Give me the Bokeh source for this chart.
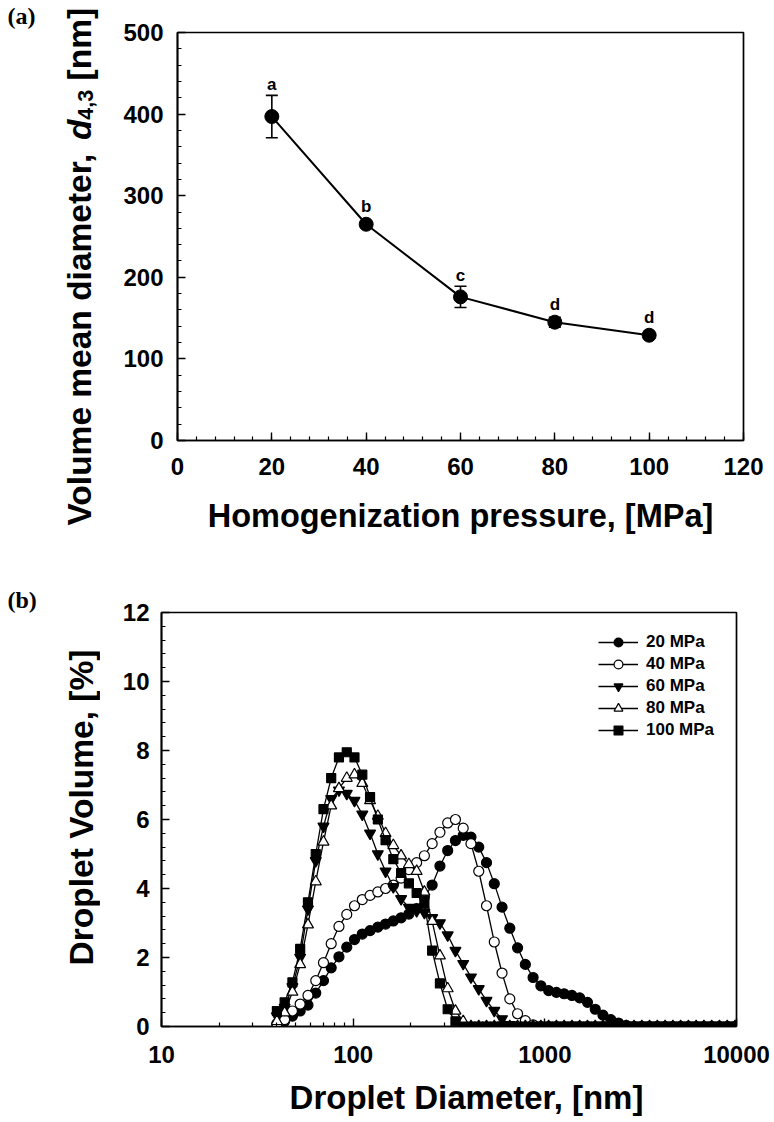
import math
from bokeh.plotting import figure
from bokeh.models import (Range1d, FixedTicker, Whisker, TeeHead, ColumnDataSource,
                          Legend, LegendItem, PrintfTickFormatter)
from bokeh.layouts import column, row
from bokeh.embed import file_html
from bokeh.resources import INLINE
from bokeh.core.properties import value

# ---------------- data: panel (a) ----------------
pressure_mpa = [20, 40, 60, 80, 100]
d43_mean_nm = [397, 265, 176, 145, 129]
d43_err_nm = [26, 3, 13, 6, 3]
group_letters = ["a", "b", "c", "d", "d"]
a_xticks = [0, 20, 40, 60, 80, 100, 120]
a_yticks = [0, 100, 200, 300, 400, 500]

# ---------------- data: panel (b) ----------------
diameter_nm = [40.0, 43.9, 48.2, 52.9, 58.1, 63.8, 70.0, 76.8, 84.3, 92.6,
               101.6, 111.6, 122.5, 134.5, 147.6, 162.0, 177.9, 195.3, 214.4, 235.3,
               258.3, 283.6, 311.3, 341.7, 375.1, 411.8, 452.1, 496.2, 544.8, 598.0,
               656.5, 720.7, 791.1, 868.5, 953.3, 1047, 1149, 1261, 1385, 1520,
               1669, 1832, 2011, 2208, 2423, 2660, 2920, 3206, 3519, 3863,
               4241, 4656, 5111, 5611, 6159, 6761, 7422, 8148, 8944, 9819]
vol_20 = [0.07, 0.15, 0.3, 0.45, 0.62, 0.97, 1.33, 1.7, 2.02, 2.3,
          2.52, 2.68, 2.78, 2.88, 2.97, 3.06, 3.15, 3.26, 3.42, 3.75,
          4.1, 4.65, 5.1, 5.39, 5.54, 5.49, 5.2, 4.75, 4.14, 3.46,
          2.85, 2.28, 1.8, 1.42, 1.18, 1.04, 0.99, 0.95, 0.9, 0.83,
          0.7, 0.5, 0.33, 0.2, 0.1, 0.03, 0, 0, 0, 0,
          0, 0, 0, 0, 0, 0, 0, 0, 0, 0]
vol_40 = [0.08, 0.2, 0.45, 0.65, 0.9, 1.33, 1.85, 2.4, 2.9, 3.25,
          3.5, 3.68, 3.8, 3.9, 4.0, 4.1, 4.3, 4.55, 4.75, 4.95,
          5.3, 5.63, 5.9, 6.0, 5.75, 5.3, 4.5, 3.5, 2.45, 1.55,
          0.8, 0.37, 0.17, 0.05, 0, 0, 0, 0, 0, 0,
          0, 0, 0, 0, 0, 0, 0, 0, 0, 0,
          0, 0, 0, 0, 0, 0, 0, 0, 0, 0]
vol_60 = [0.3, 0.55, 1.15, 2.0, 3.4, 4.8, 5.8, 6.6, 6.85, 6.75,
          6.55, 6.15, 5.6, 5.0, 4.5, 4.05, 3.7, 3.45, 3.35, 3.3,
          3.15, 3.0, 2.65, 2.2, 1.82, 1.43, 1.09, 0.75, 0.46, 0.22,
          0.05, 0, 0, 0, 0, 0, 0, 0, 0, 0,
          0, 0, 0, 0, 0, 0, 0, 0, 0, 0,
          0, 0, 0, 0, 0, 0, 0, 0, 0, 0]
vol_80 = [0.15, 0.4, 1.0, 1.8, 2.95, 4.2, 5.35, 6.4, 6.9, 7.2,
          7.3, 7.05, 6.55, 6.1, 5.6, 5.25, 4.95, 4.7, 4.5, 3.9,
          3.05, 2.05, 1.1, 0.45, 0.15, 0, 0, 0, 0, 0,
          0, 0, 0, 0, 0, 0, 0, 0, 0, 0,
          0, 0, 0, 0, 0, 0, 0, 0, 0, 0,
          0, 0, 0, 0, 0, 0, 0, 0, 0, 0]
vol_100 = [0.45, 0.7, 1.28, 2.25, 3.6, 5.0, 6.3, 7.2, 7.8, 7.95,
           7.8, 7.3, 6.65, 6.0, 5.4, 4.85, 4.45, 4.15, 3.87, 3.56,
           2.2, 1.25, 0.5, 0.15, 0, 0, 0, 0, 0, 0,
           0, 0, 0, 0, 0, 0, 0, 0, 0, 0,
           0, 0, 0, 0, 0, 0, 0, 0, 0, 0,
           0, 0, 0, 0, 0, 0, 0, 0, 0, 0]
series_labels = ["20 MPa", "40 MPa", "60 MPa", "80 MPa", "100 MPa"]
b_xticks = [10, 100, 1000, 10000]
b_yticks = [0, 2, 4, 6, 8, 10, 12]

# ---------------- layout constants (page pixels) ----------------
FONT = "Liberation Sans"
SERIF = "Liberation Serif"
ASC = 0.905                       # ascent of Liberation Sans (em)
SIDE_W = 100                      # width of the left title strips
ROW_A_H = 545
ROW_B_H = 531
STRIP_H = 1122 - ROW_A_H - ROW_B_H
STRIP_TOP = ROW_A_H + ROW_B_H
A_W = 774 - SIDE_W
A_L, A_T, A_FW, A_FH = 77, 32, 566, 408
B_W = 774 - SIDE_W
B_L, B_T, B_FW, B_FH = 61, 67, 575, 414

ARIAL_B = {'V': 667, 'o': 611, 'l': 278, 'u': 611, 'm': 889, 'e': 556, ' ': 278, 'a': 556,
           'n': 611, 'd': 611, 'i': 278, 't': 333, 'r': 389, ',': 278, '[': 333, ']': 333,
           '4': 556, '3': 556}

def tw(s, fs):
    return sum(ARIAL_B[c] for c in s) / 1000 * fs

def style_axis(ax, standoff):
    ax.major_tick_in = 8
    ax.major_tick_out = 0
    ax.minor_tick_in = 4
    ax.minor_tick_out = 0
    ax.axis_line_width = 1.7
    ax.major_tick_line_width = 1.4
    ax.minor_tick_line_width = 1.2
    ax.axis_line_color = "black"
    ax.major_tick_line_color = "black"
    ax.minor_tick_line_color = "black"
    ax.major_label_text_font = FONT
    ax.major_label_text_font_style = "bold"
    ax.major_label_text_font_size = "24px"
    ax.major_label_text_color = "black"
    ax.major_label_standoff = standoff

def style_fig(p):
    p.xgrid.visible = False
    p.ygrid.visible = False
    p.outline_line_color = "black"
    p.outline_line_width = 1.7
    p.outline_line_alpha = 1.0
    p.background_fill_color = "white"
    p.border_fill_color = "white"

def text_fig(w, h):
    f = figure(width=w, height=h, x_range=Range1d(0, w), y_range=Range1d(0, h),
               output_backend="svg", toolbar_location=None, x_axis_location=None,
               y_axis_location=None, min_border=0, outline_line_color=None,
               frame_align=False)
    f.grid.visible = False
    f.background_fill_color = "white"
    f.border_fill_color = "white"
    return f

def put_text(f, x, y, s, size, angle=0.0, align="left", style="bold", font=FONT):
    # anchor is the top of the text box ("top" baseline)
    f.text(x=[x], y=[y], text=[s], angle=angle, text_align=align, text_baseline="top",
           text_font=value(font), text_font_style=style, text_font_size=f"{size}px",
           text_color="black")

# ================= panel (a) =================
pa = figure(width=A_W, height=ROW_A_H, x_range=Range1d(0, 120), y_range=Range1d(0, 500),
            output_backend="svg", toolbar_location=None, frame_align=False,
            min_border_left=A_L, min_border_right=A_W - A_L - A_FW,
            min_border_top=A_T, min_border_bottom=ROW_A_H - A_T - A_FH)
style_fig(pa)
pa.xaxis.ticker = FixedTicker(ticks=a_xticks, minor_ticks=[v for v in range(0, 121, 4)])
pa.yaxis.ticker = FixedTicker(ticks=a_yticks, minor_ticks=[v for v in range(0, 501, 20)])
style_axis(pa.xaxis[0], 17)
style_axis(pa.yaxis[0], 14)
pa.xaxis.axis_label = "Homogenization pressure, [MPa]"
pa.xaxis.axis_label_text_font = FONT
pa.xaxis.axis_label_text_font_style = "bold"
pa.xaxis.axis_label_text_font_size = "32.5px"
pa.xaxis.axis_label_text_color = "black"
pa.xaxis.axis_label_standoff = 20

marker_r_data = 7 / (A_FH / 500)     # marker radius expressed in data units
src_a = ColumnDataSource(dict(
    x=pressure_mpa, y=d43_mean_nm,
    upper=[m + e for m, e in zip(d43_mean_nm, d43_err_nm)],
    lower=[m - e for m, e in zip(d43_mean_nm, d43_err_nm)],
    lab_y=[max(m + e, m + marker_r_data) for m, e in zip(d43_mean_nm, d43_err_nm)],
    letter=group_letters))
pa.line("x", "y", source=src_a, line_color="black", line_width=2)
pa.add_layout(Whisker(base="x", upper="upper", lower="lower", source=src_a,
                      line_color="black", line_width=1.6,
                      upper_head=TeeHead(size=12, line_width=1.6, line_color="black"),
                      lower_head=TeeHead(size=12, line_width=1.6, line_color="black")))
pa.scatter("x", "y", source=src_a, marker="circle", size=14, fill_color="black", line_color="black")
LET_FS = 17
pa.text("x", "lab_y", text="letter", source=src_a, text_align="center",
        text_baseline="top", y_offset=-(5 + ASC * LET_FS), text_font=value(FONT),
        text_font_style="bold", text_font_size=f"{LET_FS}px", text_color="black")

# left strip of (a): "(a)" and y title with italic d and subscript 4,3
ta = text_fig(SIDE_W, ROW_A_H)
put_text(ta, 7, ROW_A_H - 2, "(a)", 24, font=SERIF)
FS = 33.5
SUB = 21.5
y_start = 525.0          # page y where the title begins (bottom)
base_x = 91.0            # baseline x of the rotated title
top_x = base_x - ASC * FS
part1 = "Volume mean diameter,"
put_text(ta, top_x, ROW_A_H - y_start, part1, FS, angle=math.pi / 2)
yd = y_start - tw(part1 + " ", FS)
put_text(ta, top_x, ROW_A_H - yd, "d", FS, angle=math.pi / 2, style="bold italic")
ys = yd - tw("d", FS)
put_text(ta, base_x + 6 - ASC * SUB, ROW_A_H - ys, "4,3", SUB, angle=math.pi / 2)
yn = ys - tw("4,3", SUB) - tw(" ", FS)
put_text(ta, top_x, ROW_A_H - yn, "[nm]", FS, angle=math.pi / 2)

# ================= panel (b) =================
pb = figure(width=B_W, height=ROW_B_H, x_axis_type="log", x_range=Range1d(10, 10000),
            y_range=Range1d(0, 12), output_backend="svg", toolbar_location=None,
            frame_align=False,
            min_border_left=B_L, min_border_right=B_W - B_L - B_FW,
            min_border_top=B_T, min_border_bottom=ROW_B_H - B_T - B_FH)
style_fig(pb)
pb.xaxis.ticker = FixedTicker(ticks=b_xticks,
                              minor_ticks=[m * 10 ** k for k in range(1, 4) for m in range(2, 10)])
pb.xaxis.formatter = PrintfTickFormatter(format="%d")
pb.yaxis.ticker = FixedTicker(ticks=b_yticks, minor_ticks=[i * 0.4 for i in range(0, 31)])
style_axis(pb.xaxis[0], 19)
style_axis(pb.yaxis[0], 12)

src_b = ColumnDataSource(dict(x=diameter_nm, v20=vol_20, v40=vol_40, v60=vol_60,
                              v80=vol_80, v100=vol_100))
marker_specs = [
    ("v20", "circle", "black", 10),
    ("v40", "circle", "white", 10),
    ("v60", "inverted_triangle", "black", 11),
    ("v80", "triangle", "white", 11),
    ("v100", "square", "black", 9),
]
items = []
for (col, mk, fill, sz), lab in zip(marker_specs, series_labels):
    ln = pb.line("x", col, source=src_b, line_color="black", line_width=1.3)
    sc = pb.scatter("x", col, source=src_b, marker=mk, size=sz, fill_color=fill,
                    line_color="black", line_width=1.2)
    items.append(LegendItem(label=lab, renderers=[ln, sc]))

legend = Legend(items=items, location=(437, 285), border_line_color=None,
                background_fill_alpha=0, padding=0, margin=0, spacing=0,
                glyph_width=40, glyph_height=22, label_height=22, label_standoff=8,
                label_text_font=FONT, label_text_font_style="bold",
                label_text_font_size="17px", label_text_color="black")
pb.add_layout(legend)

# left strip of (b)
tb = text_fig(SIDE_W, ROW_B_H)
put_text(tb, 7, ROW_B_H - (586 - ROW_A_H), "(b)", 24, font=SERIF)
put_text(tb, 93 - ASC * 33.5, ROW_B_H - (807 - ROW_A_H), "Droplet Volume, [%]", 33.5,
         angle=math.pi / 2, align="center")

# bottom strip with the x title of (b)
sb = text_fig(774, STRIP_H)
put_text(sb, 466, STRIP_H - (1108 - ASC * 33 - STRIP_TOP), "Droplet Diameter, [nm]", 33,
         align="center")

layout = column(row(ta, pa, spacing=0), row(tb, pb, spacing=0), sb, spacing=0)
with open("out.html", "w") as f:
    f.write(file_html(layout, INLINE))
